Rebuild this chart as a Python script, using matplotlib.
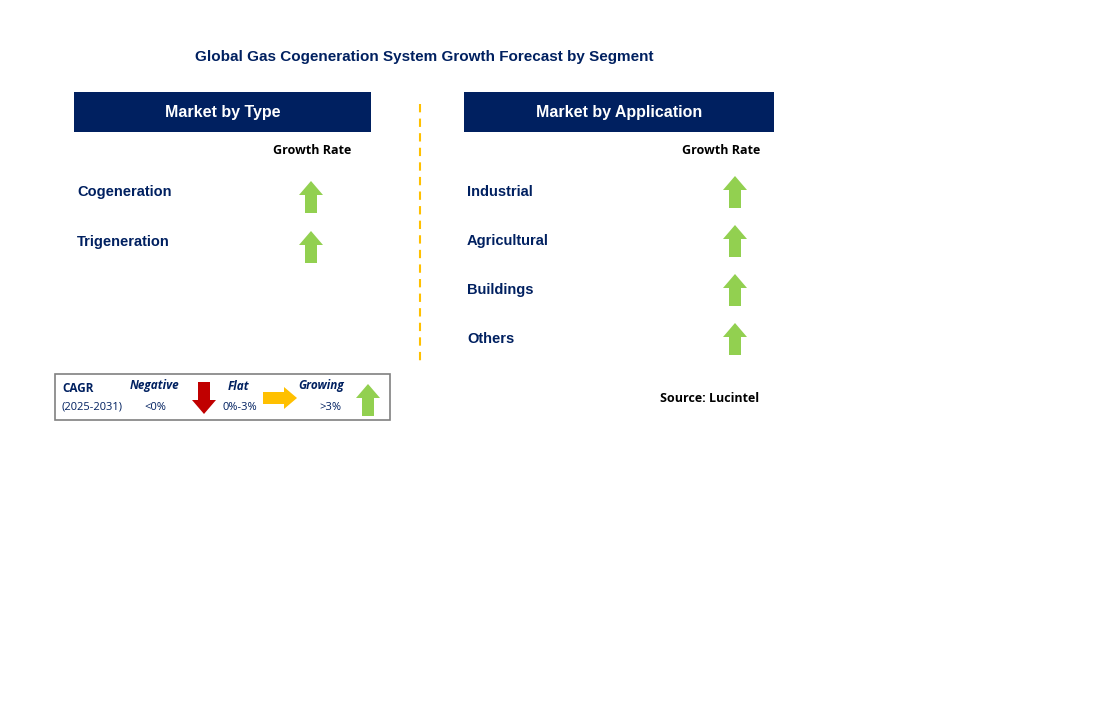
import matplotlib
matplotlib.use("Agg")
import matplotlib.pyplot as plt
from matplotlib.patches import Polygon, Rectangle

title = "Global Gas Cogeneration System Growth Forecast by Segment"
type_categories = ["Cogeneration", "Trigeneration"]
type_growth = ["up", "up"]
app_categories = ["Industrial", "Agricultural", "Buildings", "Others"]
app_growth = ["up", "up", "up", "up"]

NAVY = "#002060"
GREEN = "#92D050"
RED = "#C00000"
ORANGE = "#FFC000"

fig = plt.figure(figsize=(11.04, 7.08), dpi=100)
ax = fig.add_axes([0, 0, 1, 1])
ax.set_xlim(0, 1104)
ax.set_ylim(708, 0)
ax.axis("off")

def arrow(cx, cy, direction, color, length=32, head_w=24, shaft_w=12, head_l=14):
    h = length / 2
    if direction == "up":
        pts = [(cx - shaft_w/2, cy + h), (cx - shaft_w/2, cy - h + head_l), (cx - head_w/2, cy - h + head_l),
               (cx, cy - h), (cx + head_w/2, cy - h + head_l), (cx + shaft_w/2, cy - h + head_l), (cx + shaft_w/2, cy + h)]
    elif direction == "down":
        pts = [(cx - shaft_w/2, cy - h), (cx - shaft_w/2, cy + h - head_l), (cx - head_w/2, cy + h - head_l),
               (cx, cy + h), (cx + head_w/2, cy + h - head_l), (cx + shaft_w/2, cy + h - head_l), (cx + shaft_w/2, cy - h)]
    else:
        pts = [(cx - h, cy - shaft_w/2), (cx + h - head_l, cy - shaft_w/2), (cx + h - head_l, cy - head_w/2),
               (cx + h, cy), (cx + h - head_l, cy + head_w/2), (cx + h - head_l, cy + shaft_w/2), (cx - h, cy + shaft_w/2)]
    ax.add_patch(Polygon(pts, closed=True, facecolor=color, edgecolor="none"))

ax.text(424, 57, title, ha="center", va="center", fontsize=11, color=NAVY, fontweight="bold", family="Liberation Sans")

def panel(x0, width, header, cats, growth, arrow_x, gr_x):
    ax.add_patch(Rectangle((x0, 92), width, 40, facecolor=NAVY, edgecolor="none"))
    ax.text(x0 + width/2, 112, header, ha="center", va="center", fontsize=11.5, color="white", fontweight="bold", family="Liberation Sans")
    ax.text(gr_x, 151, "Growth Rate", ha="center", va="center", fontsize=9, color="black", fontweight="bold", family="Open Sans")
    step = 49 if len(cats) > 2 else 50
    for i, (c, g) in enumerate(zip(cats, growth)):
        y = 192 + i * step
        ax.text(x0 + 3, y, c, ha="left", va="center", fontsize=10.5, color=NAVY, fontweight="bold", family="Liberation Sans")
        arrow(arrow_x, y + 5 if len(cats) == 2 else y, g, GREEN)

panel(74, 297, "Market by Type", type_categories, type_growth, 311, 312)
panel(464, 310, "Market by Application", app_categories, app_growth, 735, 721)

ax.plot([420, 420], [104, 366], color=ORANGE, linestyle=(0, (4, 3)), linewidth=1.5)

# legend box
ax.add_patch(Rectangle((55, 374), 335, 46, facecolor="white", edgecolor="#808080", linewidth=1.2))
ax.text(62, 388, "CAGR", fontsize=8.5, color=NAVY, fontweight="bold", va="center", family="Open Sans")
ax.text(61, 407, "(2025-2031)", fontsize=8, color=NAVY, va="center", family="Open Sans")
ax.text(155, 386, "Negative", fontsize=8.5, color=NAVY, fontweight="bold", style="italic", ha="center", va="center", family="Open Sans")
ax.text(155, 408, "<0%", fontsize=8, color=NAVY, ha="center", va="center", family="Open Sans")
arrow(204, 398, "down", RED, length=32, head_w=24, shaft_w=12, head_l=14)
ax.text(238, 386, "Flat", fontsize=8.5, color=NAVY, fontweight="bold", style="italic", ha="center", va="center", family="Open Sans")
ax.text(240, 408, "0%-3%", fontsize=8, color=NAVY, ha="center", va="center", family="Open Sans")
arrow(280, 398, "right", ORANGE, length=34, head_w=22, shaft_w=12, head_l=13)
ax.text(321, 386, "Growing", fontsize=8.5, color=NAVY, fontweight="bold", style="italic", ha="center", va="center", family="Open Sans")
ax.text(330, 407, ">3%", fontsize=8, color=NAVY, ha="center", va="center", family="Open Sans")
arrow(368, 400, "up", GREEN, length=32, head_w=24, shaft_w=12, head_l=14)

ax.text(710, 399, "Source: Lucintel", fontsize=9, color="black", fontweight="bold", ha="center", va="center", family="Open Sans")

fig.savefig("out.png", dpi=100, facecolor="white")
